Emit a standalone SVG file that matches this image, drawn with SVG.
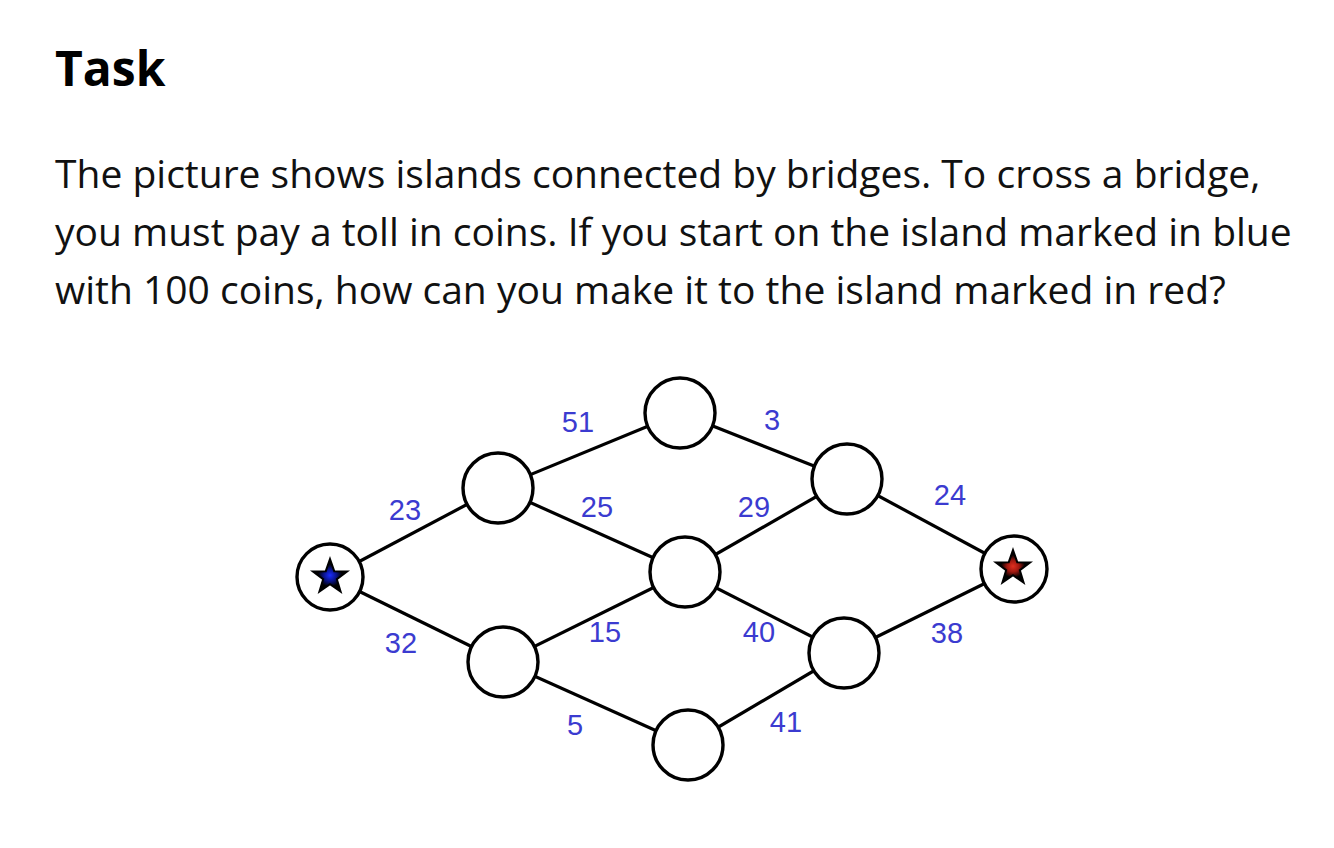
<svg xmlns="http://www.w3.org/2000/svg" width="1334" height="848" viewBox="0 0 1334 848">
<style>
.title{font-family:"Open Sans",sans-serif;font-weight:700;font-size:48px;fill:#000}
.body{font-family:"Open Sans",sans-serif;font-size:39px;fill:#111}
.edge{stroke:#000;stroke-width:3.2;fill:none}
.isl{fill:#fff;stroke:#000;stroke-width:3.4}
.lbl{font-family:"Liberation Sans",Arial,sans-serif;font-size:29px;fill:#3b3bd0;text-anchor:middle}
.star{stroke:#000;stroke-width:2;stroke-linejoin:miter}
</style>
<defs>
<radialGradient id="gb"><stop offset="0" stop-color="#1a2cff"/><stop offset="0.35" stop-color="#0a1490"/><stop offset="0.7" stop-color="#000"/></radialGradient>
<radialGradient id="gr"><stop offset="0" stop-color="#e03020"/><stop offset="0.35" stop-color="#a01810"/><stop offset="0.7" stop-color="#000"/></radialGradient>
<polygon id="st" points="0,-18 4.23,-5.82 17.12,-5.56 6.85,2.22 10.58,14.56 0,7.2 -10.58,14.56 -6.85,2.22 -17.12,-5.56 -4.23,-5.82"/>
</defs>
<rect width="1334" height="848" fill="#fff"/>
<text class="title" x="55" y="86">Task</text>
<text class="body" x="55" y="188">The picture shows islands connected by bridges. To cross a bridge,</text>
<text class="body" x="55" y="246">you must pay a toll in coins. If you start on the island marked in blue</text>
<text class="body" x="55" y="304">with 100 coins, how can you make it to the island marked in red?</text>
<g id="connectors">
<line class="edge" x1="330" y1="577" x2="498" y2="488"/>
<line class="edge" x1="330" y1="577" x2="503" y2="662"/>
<line class="edge" x1="498" y1="488" x2="680" y2="413"/>
<line class="edge" x1="498" y1="488" x2="685" y2="572"/>
<line class="edge" x1="503" y1="662" x2="685" y2="572"/>
<line class="edge" x1="503" y1="662" x2="688" y2="745"/>
<line class="edge" x1="680" y1="413" x2="847" y2="479"/>
<line class="edge" x1="685" y1="572" x2="847" y2="479"/>
<line class="edge" x1="685" y1="572" x2="844" y2="653"/>
<line class="edge" x1="688" y1="745" x2="844" y2="653"/>
<line class="edge" x1="847" y1="479" x2="1014" y2="569"/>
<line class="edge" x1="844" y1="653" x2="1014" y2="569"/>
<text class="lbl" x="405" y="520">23</text>
<text class="lbl" x="401" y="653">32</text>
<text class="lbl" x="578" y="432">51</text>
<text class="lbl" x="597" y="517">25</text>
<text class="lbl" x="605" y="642">15</text>
<text class="lbl" x="575" y="735">5</text>
<text class="lbl" x="772" y="430">3</text>
<text class="lbl" x="754" y="517">29</text>
<text class="lbl" x="759" y="642">40</text>
<text class="lbl" x="786" y="732">41</text>
<text class="lbl" x="950" y="505">24</text>
<text class="lbl" x="947" y="643">38</text>
</g>
<g id="start"><circle class="isl" cx="330" cy="577" r="33"/><use href="#st" x="330" y="577" class="star" fill="url(#gb)"/></g>
<g id="upper-left"><circle class="isl" cx="498" cy="488" r="35"/></g>
<g id="lower-left"><circle class="isl" cx="503" cy="662" r="35"/></g>
<g id="top"><circle class="isl" cx="680" cy="413" r="35"/></g>
<g id="middle"><circle class="isl" cx="685" cy="572" r="35"/></g>
<g id="bottom"><circle class="isl" cx="688" cy="745" r="35"/></g>
<g id="upper-right"><circle class="isl" cx="847" cy="479" r="35"/></g>
<g id="lower-right"><circle class="isl" cx="844" cy="653" r="35"/></g>
<g id="end"><circle class="isl" cx="1014" cy="569" r="33"/><use href="#st" x="1013" y="568" class="star" fill="url(#gr)"/></g>
</svg>
